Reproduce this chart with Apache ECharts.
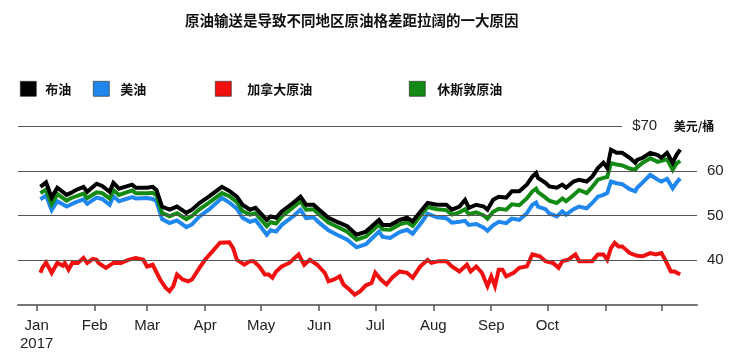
<!DOCTYPE html>
<html>
<head>
<meta charset="utf-8">
<script src="https://cdn.jsdelivr.net/npm/echarts@6/dist/echarts.min.js"></script>
<style>
  html, body { margin: 0; padding: 0; background: #fff; }
  #chart { width: 730px; height: 355px; }
</style>
</head>
<body>
<div id="chart"></div>
<script>
// shared dates (2017) for 布油 / 休斯敦原油 / 美油
var dates = ['01-03','01-06','01-09','01-12','01-17','01-19','01-22','01-26','01-28','02-02','02-05','02-09','02-11','02-14','02-21','02-23',
  '03-01','03-04','03-06','03-09','03-13','03-17','03-22','03-25','03-29','04-03','04-10','04-14','04-18','04-21','04-25','04-28',
  '05-04','05-06','05-09','05-12','05-18','05-22','05-23','05-25','05-29','06-01','06-06','06-10','06-16','06-21','06-26',
  '07-03','07-05','07-09','07-14','07-18','07-21','07-26','07-29','08-03','08-08','08-11','08-15','08-18','08-20','08-24','08-28','08-30',
  '09-02','09-05','09-09','09-12','09-16','09-20','09-23','09-25','09-26','09-30','10-02','10-06','10-09','10-11','10-15','10-18','10-22','10-25','10-28','10-31',
  '11-02','11-04','11-07','11-10','11-14','11-17','11-18','11-21','11-25','11-29','12-01','12-04','12-07','12-09','12-11'];
var brent = [56.4,57.4,54.0,56.2,54.6,55.0,55.7,56.4,55.3,57.1,56.6,55.3,57.3,56.0,56.9,56.2,
  56.2,56.4,55.7,52.0,51.3,52.0,50.6,51.3,52.8,54.2,56.4,55.5,54.2,52.4,51.3,51.7,
  49.0,49.8,49.5,50.9,52.8,54.2,54.0,52.4,52.4,51.3,49.5,48.7,47.6,45.7,46.4,
  49.0,47.9,47.9,49.0,49.5,48.7,51.3,52.8,52.4,52.4,51.3,52.0,53.5,51.7,52.4,52.0,51.3,
  53.5,54.2,54.0,55.4,55.4,56.9,58.7,59.5,58.4,57.3,56.5,56.2,56.9,56.2,57.6,58.0,57.6,58.7,60.6,61.8,
  60.6,64.7,64.0,64.0,62.9,61.8,62.4,62.9,64.0,63.5,62.9,64.0,61.8,63.5,64.7];
var houston = [55.0,55.8,52.5,54.8,53.3,53.8,54.3,54.9,53.9,55.2,55.0,53.8,55.7,54.6,55.6,55.0,
  55.0,55.1,54.5,50.6,49.8,50.5,49.2,49.9,51.4,52.8,55.0,54.3,53.0,51.0,50.2,50.5,
  47.6,48.5,48.2,49.8,51.8,53.2,53.0,51.3,51.4,50.2,48.4,47.6,46.4,44.6,45.3,
  48.0,46.9,46.8,48.0,48.5,47.7,50.4,51.9,51.4,51.2,50.2,50.7,51.4,50.3,50.7,50.0,49.3,
  50.8,51.5,51.3,52.5,52.3,53.8,55.4,56.0,55.2,54.0,53.3,52.8,53.8,53.2,54.6,55.7,55.0,56.4,58.0,58.4,
  58.6,61.7,61.4,61.2,60.5,60.2,60.8,61.8,62.8,62.0,62.2,62.6,60.2,61.6,62.2];
var wti = [53.6,54.5,51.2,53.2,52.0,52.4,53.0,53.6,52.6,54.0,53.7,52.4,54.3,53.2,54.1,53.8,
  53.9,53.7,53.2,49.2,48.3,48.9,47.4,48.0,49.8,51.3,53.9,52.9,51.5,49.5,48.6,49.0,
  45.7,46.7,46.4,47.9,49.8,51.3,51.2,49.4,49.6,48.4,46.7,45.8,44.6,42.9,43.6,
  46.4,45.2,45.0,46.3,46.8,45.9,48.6,50.4,49.6,49.4,48.4,48.6,48.8,47.9,48.1,47.3,46.6,
  47.8,48.6,48.3,49.3,49.0,50.5,52.4,52.9,52.0,51.4,50.5,49.8,50.9,50.2,51.4,52.0,51.6,52.8,54.2,54.6,
  55.0,57.6,57.2,57.0,55.9,55.4,56.2,57.4,59.1,58.0,57.6,58.2,56.1,57.3,58.3];

// 加拿大原油 has its own dates
var wcsDates = ['01-03','01-04','01-06','01-09','01-12','01-15','01-16','01-18','01-20','01-23','01-26','01-28','01-31','02-02','02-03','02-07',
  '02-11','02-15','02-19','02-23','02-27','03-01','03-04','03-08','03-11','03-13','03-15','03-17','03-20','03-23','03-25','03-29',
  '04-01','04-05','04-09','04-10','04-14','04-16','04-18','04-22','04-25','04-27','04-30','05-03','05-05','05-07','05-09','05-12',
  '05-16','05-21','05-22','05-24','05-27','05-31','06-04','06-06','06-09','06-12','06-14','06-17','06-20','06-23','06-26','06-29',
  '07-01','07-02','07-04','07-07','07-10','07-14','07-18','07-21','07-25','07-29','07-31','08-04','08-08','08-11','08-15','08-19',
  '08-21','08-24','08-27','08-30','09-01','09-03','09-05','09-07','09-09','09-13','09-16','09-20','09-23','09-27','09-30','10-04',
  '10-07','10-09','10-12','10-16','10-18','10-22','10-25','10-28','10-31','11-02','11-04','11-06','11-08','11-10','11-14','11-18',
  '11-21','11-25','11-28','12-01','12-03','12-04','12-06','12-08','12-11'];
var wcs = [37.2,38.3,39.5,37.2,39.4,38.8,39.4,37.9,39.4,39.4,40.5,39.4,40.3,40.1,39.4,38.3,
  39.4,39.4,40.1,40.5,40.1,38.6,39.0,35.7,33.8,33.1,34.2,36.8,35.7,35.3,35.7,38.3,
  40.1,42.0,43.9,44.2,44.0,42.7,40.1,39.0,39.8,39.8,38.6,36.8,36.8,36.1,37.5,38.6,
  39.4,41.3,40.9,39.0,40.1,39.0,37.2,35.3,35.7,36.4,34.6,33.5,32.3,33.1,34.4,34.9,
  37.2,37.5,35.7,34.6,36.1,37.5,37.2,36.1,38.6,40.1,39.4,39.8,39.8,38.6,37.5,39.0,
  37.5,38.6,37.2,34.2,36.4,34.2,37.9,37.9,36.4,37.2,38.3,38.6,41.3,40.9,39.8,39.4,
  38.3,39.8,40.1,41.3,39.8,39.8,39.8,41.3,41.3,40.1,42.7,43.9,43.1,43.1,41.6,41.0,
  40.9,41.6,41.3,41.6,40.1,40.5,37.5,37.5,36.8];

var monthNames = ['Jan','Feb','Mar','Apr','May','Jun','Jul','Aug','Sep','Oct','',''];
var yTicks = [40, 50, 60];

var FONT = "'Liberation Sans', 'Noto Sans CJK SC', sans-serif";
var CJK = "'Noto Sans CJK SC', sans-serif";

function ts(md) {
  var p = md.split('-');
  return new Date(2017, +p[0] - 1, +p[1]).getTime();
}
function pairs(ds, vs) {
  return ds.map(function (d, i) { return [ts(d), vs[i]]; });
}

var xMin = new Date(2016, 11, 22).getTime();
var xMax = new Date(2017, 11, 20).getTime();
var monthStarts = monthNames.map(function (m, i) { return new Date(2017, i, 1).getTime(); });

var chart = echarts.init(document.getElementById('chart'));

function lineSeries(name, color, data, z) {
  return {
    name: name, type: 'line', data: data, z: z,
    symbol: 'none', showSymbol: false,
    lineStyle: { color: color, width: 4, join: 'miter' },
    itemStyle: { color: color },
    emphasis: { disabled: true }
  };
}

// one legend per item: the reference spaces them unevenly
function legendAt(left, name, pad) {
  return {
    left: left, top: 76, icon: 'rect', itemWidth: 16, itemHeight: 15,
    data: [name], selectedMode: false,
    itemStyle: { borderColor: '#222', borderWidth: 0.6 },
    textStyle: { fontFamily: CJK, fontSize: 13, fontWeight: 'bold', color: '#111', padding: [0, 0, 0, pad] }
  };
}

var gridColor = '#555';
var option = {
  animation: false,
  title: {
    text: '原油输送是导致不同地区原油格差距拉阔的一大原因',
    left: 180, top: 8,
    textStyle: { fontFamily: CJK, fontSize: 14.5, fontWeight: 'bold', color: '#111' }
  },
  legend: [
    legendAt(15, '布油', 4),
    legendAt(88, '美油', 6),
    legendAt(210, '加拿大原油', 11),
    legendAt(404, '休斯敦原油', 7)
  ],
  grid: { left: 18, right: 33, top: 126, bottom: 50 },
  xAxis: {
    type: 'value', min: xMin, max: xMax,
    axisLine: { lineStyle: { color: '#777', width: 2 } },
    axisTick: { show: true, length: 6, inside: false, customValues: monthStarts, lineStyle: { color: '#555', width: 1.5 } },
    axisLabel: {
      customValues: monthStarts,
      margin: 12, fontFamily: FONT, fontSize: 15, lineHeight: 18, color: '#222',
      hideOverlap: false, showMinLabel: true, showMaxLabel: true,
      formatter: function (v) {
        var d = new Date(v);
        var m = d.getMonth();
        if (m === 0) return monthNames[0] + '\n' + d.getFullYear();
        return monthNames[m];
      }
    },
    splitLine: { show: false }
  },
  yAxis: {
    type: 'value', position: 'right', min: 30, max: 70, interval: 10,
    name: '美元/桶', nameLocation: 'end', nameGap: -6,
    nameTextStyle: { fontFamily: CJK, fontSize: 12, fontWeight: 'bold', color: '#111', padding: [0, 6, 0, 0] },
    axisLine: { show: false }, axisTick: { show: false },
    splitLine: { show: false },
    axisLabel: {
      margin: 10, fontFamily: FONT, fontSize: 15, color: '#222',
      formatter: function (v) { return yTicks.indexOf(v) >= 0 ? String(v) : ''; }
    }
  },
  series: [
    {
      name: 'grid', type: 'line', data: [], silent: true, z: 1,
      markLine: {
        silent: true, symbol: 'none', animation: false,
        lineStyle: { color: gridColor, width: 1.2, type: 'solid' },
        label: { show: false },
        data: [
          [{ coord: [xMin, 40] }, { coord: [xMax, 40] }],
          [{ coord: [xMin, 50] }, { coord: [xMax, 50] }],
          [{ coord: [xMin, 60] }, { coord: [xMax, 60] }],
          [{ coord: [xMin, 70] }, { coord: [ts('11-10'), 70],
            label: { show: true, position: 'end', distance: 10, formatter: '$70',
              fontFamily: FONT, fontSize: 15, color: '#222' } }]
        ]
      }
    },
    lineSeries('加拿大原油', '#f01010', pairs(wcsDates, wcs), 2),
    lineSeries('美油', '#1f87ee', pairs(dates, wti), 3),
    lineSeries('休斯敦原油', '#138a13', pairs(dates, houston), 4),
    lineSeries('布油', '#000000', pairs(dates, brent), 5)
  ]
};
chart.setOption(option);
</script>
</body>
</html>
